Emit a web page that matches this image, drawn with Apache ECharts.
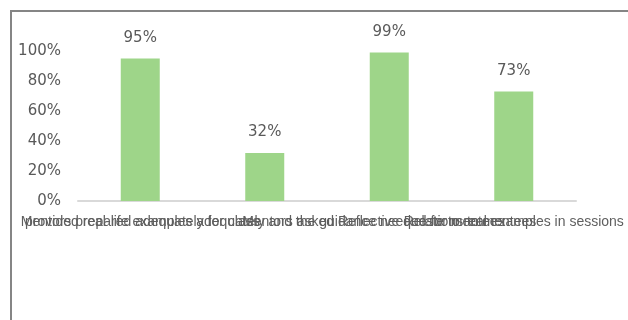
<!DOCTYPE html>
<html>
<head>
<meta charset="utf-8">
<script src="https://cdn.jsdelivr.net/npm/echarts@6/dist/echarts.min.js"></script>
<style>
  html, body { margin: 0; padding: 0; background: #fff; }
  #wrap { position: relative; width: 628px; height: 320px; overflow: hidden; }
  #chart { width: 628px; height: 320px; }
  #frame {
    position: absolute; left: 10px; top: 10px; width: 640px; height: 340px;
    border-left: 2px solid #858585; border-top: 2px solid #858585;
    pointer-events: none;
  }
</style>
</head>
<body>
<div id="wrap">
  <div id="chart"></div>
  <div id="frame"></div>
</div>
<script>
// categories (long labels overlap, as in the source)
const categories = [
  'Mentors prepared adequately for class',
  'provided real-life examples adequately and the guidance needed for mentees',
  'Mentors asked Reflective questions to mentees',
  'Relate to real examples in sessions'
];
const values = [95, 32, 99, 73];
const yTicks = [0, 20, 40, 60, 80, 100];

const chart = echarts.init(document.getElementById('chart'));
chart.setOption({
  animation: false,
  grid: { left: 78, right: 52, top: 51, bottom: 119, containLabel: false, outerBoundsMode: 'none' },
  xAxis: {
    type: 'category',
    data: categories,
    axisLine: { lineStyle: { color: '#d9d9d9', width: 2 } },
    axisTick: { show: false },
    axisLabel: {
      interval: 0,
      hideOverlap: false,
      color: '#5f5f5f',
      fontSize: 14,
      fontFamily: 'Liberation Sans',
      margin: 14
    }
  },
  yAxis: {
    type: 'value',
    min: yTicks[0],
    max: yTicks[yTicks.length - 1],
    interval: 20,
    splitLine: { show: false },
    axisLine: { show: false },
    axisTick: { show: false },
    axisLabel: {
      color: '#595959',
      fontSize: 15,
      fontFamily: 'DejaVu Sans',
      margin: 17,
      formatter: v => v + '%'
    }
  },
  series: [{
    type: 'bar',
    data: values,
    barWidth: 39,
    itemStyle: { color: '#9ed589' },
    label: {
      show: true,
      position: 'top',
      distance: 13,
      color: '#595959',
      fontSize: 15,
      fontFamily: 'DejaVu Sans',
      formatter: p => p.value + '%'
    }
  }]
});
</script>
</body>
</html>
